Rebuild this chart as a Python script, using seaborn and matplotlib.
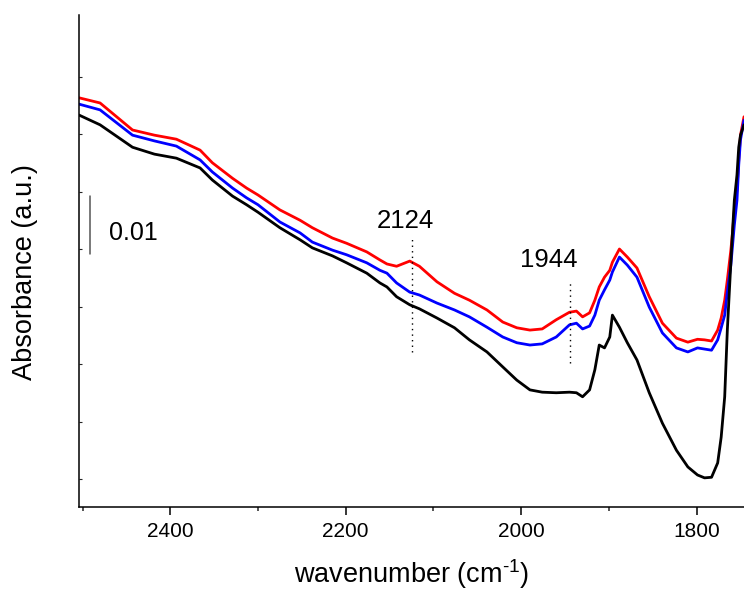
import numpy as np
import pandas as pd
import seaborn as sns
import matplotlib.pyplot as plt
from matplotlib.ticker import FixedLocator

# wavenumber grid (cm-1), shared by the three spectra
wavenumber = [2504, 2480, 2443, 2418, 2393, 2366, 2352, 2329, 2313, 2300,
              2275, 2252, 2238, 2215, 2199, 2176, 2161, 2153, 2142, 2127,
              2116, 2096, 2076, 2059, 2039, 2021, 2005, 1990, 1976, 1960,
              1945, 1937, 1930, 1922, 1916, 1911, 1905, 1899, 1896, 1888,
              1879, 1868, 1854, 1839, 1823, 1810, 1799, 1791, 1783, 1776,
              1772, 1768, 1765, 1761, 1759, 1757, 1754, 1752, 1750, 1746]

abs_red = [0.2663, 0.2654, 0.2607, 0.2598, 0.2591, 0.2572, 0.2550, 0.2523, 0.2506, 0.2494,
           0.2468, 0.2450, 0.2437, 0.2419, 0.2410, 0.2395, 0.2381, 0.2374, 0.2370, 0.2379,
           0.2370, 0.2343, 0.2323, 0.2311, 0.2294, 0.2273, 0.2263, 0.2259, 0.2261, 0.2277,
           0.2290, 0.2292, 0.2282, 0.2289, 0.2311, 0.2334, 0.2351, 0.2363, 0.2377, 0.2400,
           0.2386, 0.2367, 0.2317, 0.2271, 0.2245, 0.2238, 0.2243, 0.2242, 0.2240, 0.2259,
           0.2280, 0.2311, 0.2346, 0.2398, 0.2430, 0.2468, 0.2503, 0.2555, 0.2598, 0.2630]

abs_blue = [0.2652, 0.2642, 0.2598, 0.2588, 0.2579, 0.2555, 0.2534, 0.2506, 0.2489, 0.2477,
            0.2447, 0.2428, 0.2412, 0.2398, 0.2390, 0.2376, 0.2363, 0.2358, 0.2341, 0.2325,
            0.2320, 0.2306, 0.2294, 0.2282, 0.2264, 0.2247, 0.2237, 0.2233, 0.2235, 0.2247,
            0.2268, 0.2271, 0.2261, 0.2266, 0.2285, 0.2311, 0.2329, 0.2346, 0.2360, 0.2386,
            0.2372, 0.2351, 0.2299, 0.2254, 0.2228, 0.2221, 0.2228, 0.2226, 0.2224, 0.2242,
            0.2263, 0.2285, 0.2325, 0.2372, 0.2407, 0.2442, 0.2485, 0.2546, 0.2590, 0.2624]

abs_black = [0.2633, 0.2616, 0.2577, 0.2565, 0.2558, 0.2541, 0.2520, 0.2492, 0.2477, 0.2464,
             0.2437, 0.2416, 0.2402, 0.2388, 0.2376, 0.2358, 0.2341, 0.2334, 0.2317, 0.2303,
             0.2296, 0.2280, 0.2263, 0.2242, 0.2221, 0.2195, 0.2172, 0.2155, 0.2151, 0.2150,
             0.2151, 0.2150, 0.2143, 0.2155, 0.2190, 0.2233, 0.2228, 0.2247, 0.2285, 0.2264,
             0.2237, 0.2207, 0.2150, 0.2097, 0.2050, 0.2021, 0.2007, 0.2002, 0.2003, 0.2028,
             0.2073, 0.2143, 0.2259, 0.2376, 0.2433, 0.2485, 0.2529, 0.2577, 0.2598, 0.2616]

# marked bands: position, dotted line span, label position
band_pos = [2124, 1944]
band_lo = [0.2221, 0.2202]
band_hi = [0.2419, 0.2343]
band_label_x = [2132, 1968]
band_label_y = [0.2437, 0.2369]

df = pd.concat([
    pd.DataFrame({"wavenumber": wavenumber, "absorbance": abs_red, "sample": "red"}),
    pd.DataFrame({"wavenumber": wavenumber, "absorbance": abs_blue, "sample": "blue"}),
    pd.DataFrame({"wavenumber": wavenumber, "absorbance": abs_black, "sample": "black"}),
])

sns.set_theme(style="ticks")
plt.rcParams['font.family'] = ['Liberation Sans', 'DejaVu Sans']
plt.rcParams['mathtext.fontset'] = 'custom'
plt.rcParams['mathtext.rm'] = 'Liberation Sans'
plt.rcParams['mathtext.it'] = 'Liberation Sans:italic'

fig = plt.figure(figsize=(7.44, 5.92), dpi=100)
ax = fig.add_axes([79 / 744, 85 / 592, 665 / 744, 492 / 592])

sns.lineplot(data=df, x="wavenumber", y="absorbance", hue="sample",
             palette={"red": "#ff0000", "blue": "#0000ff", "black": "black"},
             estimator=None, sort=False, linewidth=2, legend=False, ax=ax)

# dotted markers + labels for the bands
ax.vlines(band_pos, band_lo, band_hi, colors="black", linestyles=(0, (1, 3)), linewidth=1)
for x, y, p in zip(band_label_x, band_label_y, band_pos):
    ax.text(x, y, str(p), ha="center", va="baseline", fontsize=18.5, color="black")

# scale bar
ax.plot([2492, 2492], [0.2392, 0.2492], color="#555555", linewidth=1.1)
ax.text(2470, 0.2416, "0.01", ha="left", va="baseline", fontsize=18, color="black")

ax.set_xlim(2504, 1746)
ax.set_ylim(0.19513, 0.2807)

ax.xaxis.set_major_locator(FixedLocator([2400, 2200, 2000, 1800]))
ax.xaxis.set_minor_locator(FixedLocator([2500, 2300, 2100, 1900]))
ax.set_yticks([0.20, 0.21, 0.22, 0.23, 0.24, 0.25, 0.26, 0.27])
ax.set_yticklabels([])
ax.tick_params(axis="x", which="major", direction="out", length=5.5, width=1.1,
               labelsize=15, pad=5, colors="black")
ax.tick_params(axis="x", which="minor", direction="out", length=3, width=1.1)
ax.tick_params(axis="y", which="major", direction="in", length=2, width=0.8, left=True)

for side in ["left", "bottom"]:
    ax.spines[side].set_linewidth(1.1)
    ax.spines[side].set_color("black")
sns.despine(ax=ax)

ax.set_xlabel("wavenumber (cm$^{\\text{-1}}$)", fontsize=19.5, color="black")
ax.set_ylabel("Absorbance (a.u.)", fontsize=19.5, color="black")
ax.xaxis.label.set_va("baseline")
ax.xaxis.set_label_coords(0.5, (507 - 583) / 492)
ax.yaxis.label.set_va("baseline")
ax.yaxis.set_label_coords((32 - 79) / 665, (507 - 272) / 492)

fig.savefig("out.png", dpi=100)
